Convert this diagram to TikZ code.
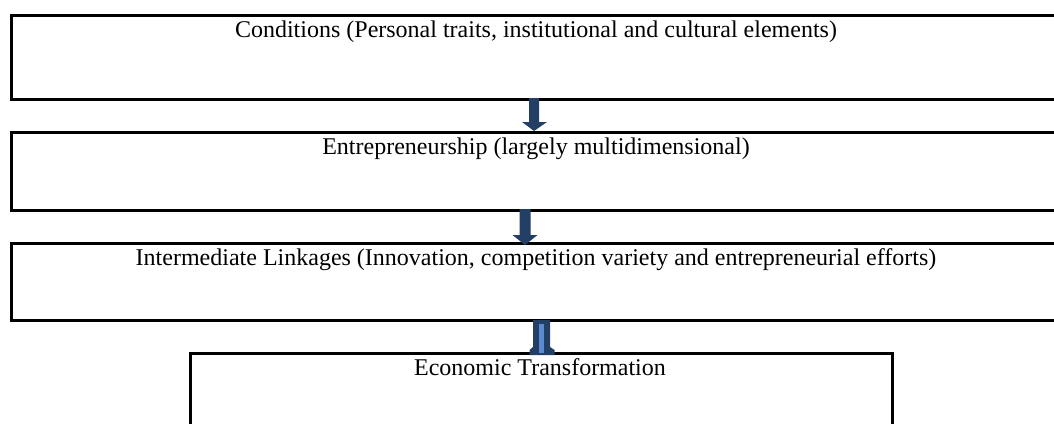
\documentclass[tikz,border=0pt]{standalone}
\usepackage{fontspec}
\setmainfont{Liberation Serif}
\usetikzlibrary{positioning}
\definecolor{arrowdark}{HTML}{243F66}
\definecolor{arrowlight}{HTML}{5B8AD0}
\tikzset{
  box/.style={draw=black, line width=2.6pt, rectangle, inner sep=0pt},
  lbl/.style={font=\fontsize{24}{27}\selectfont, inner sep=0pt, anchor=base},
  arr/.style={fill=arrowdark, draw=none}
}
\begin{document}
\begin{tikzpicture}[x=1pt,y=1pt]
\useasboundingbox (0,0) rectangle (1054,-423);
% boxes
\node[box, minimum width=1060pt, minimum height=84pt, anchor=north west] (b1) at (10,-14) {};
\node[box, minimum width=1060pt, minimum height=78pt, anchor=north west] (b2) at (10,-131) {};
\node[box, minimum width=1060pt, minimum height=77pt, anchor=north west] (b3) at (10,-242) {};
\node[box, minimum width=702pt, minimum height=100pt, anchor=north west] (b4) at (189,-352) {};
% labels
\node[lbl] (t1) at (536,-37) {Conditions (Personal traits, institutional and cultural elements)};
\node[lbl] (t2) at (536,-154) {Entrepreneurship (largely multidimensional)};
\node[lbl] (t3) at (536,-265) {Intermediate Linkages (Innovation, competition variety and entrepreneurial efforts)};
\node[lbl] (t4) at (540,-375) {Economic Transformation};
% arrows
\coordinate (a1) at (534,-98);
\fill[arr] (a1) ++(-5,0) -- ++(0,-24) -- ++(-7,0) -- ++(12,-9) -- ++(13,9) -- ++(-8,0) -- ++(0,24) -- cycle;
\coordinate (a2) at (525,-209);
\fill[arr] (a2) ++(-5.5,0) -- ++(0,-26) -- ++(-7,0) -- ++(12.5,-10) -- ++(12.5,10) -- ++(-7,0) -- ++(0,26) -- cycle;
\coordinate (a3) at (541.5,-320);
\fill[arr] (a3) ++(-8.5,0) -- ++(17,0) -- ++(0,-27) -- ++(4.5,-3) -- ++(0,-5) -- ++(-25,0) -- ++(0,5) -- ++(3.5,3) -- cycle;
\fill[arrowlight] (a3) ++(-2.5,-4) rectangle ++(5,-29);
\end{tikzpicture}
\end{document}
